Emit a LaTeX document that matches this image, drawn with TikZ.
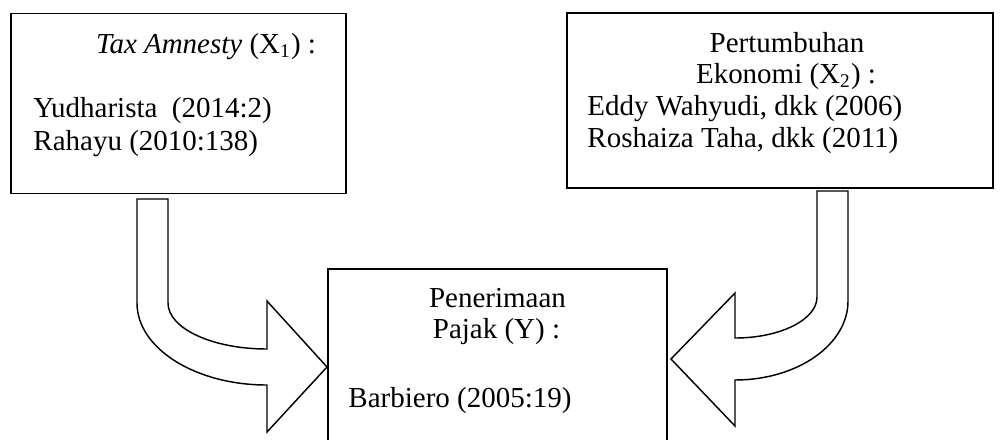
\documentclass[tikz,border=0pt]{standalone}
\usepackage{fontspec}
\setmainfont{Liberation Serif}
\begin{document}
\begin{tikzpicture}[
        x                 = 0.414pt,
        y                 = -0.414pt,
        box/.style        = {draw, black, line width=0.8pt, rectangle, inner sep=0pt},
        txt/.style        = {inner sep=0pt, font=\fontsize{12}{14}\selectfont},
        bigarrow/.style   = {draw, black, line width=0.6pt, fill=white, line join=miter},
      ]
    \useasboundingbox (0,0) rectangle (1000,439);
    \clip (0,0) rectangle (1000,439);
    % boxes
    \node[box, minimum width=138.7pt, minimum height=74.5pt] (amnesty) at (178.5,103.5) {};
    \node[box, minimum width=176.4pt, minimum height=72.5pt] (ekonomi) at (780,100.5) {};
    \node[box, minimum width=140.4pt, minimum height=87.4pt] (pajak) at (497.5,374.5) {};
    % texts
    \node[txt, anchor=base] (t1) at (206,53) {\textit{Tax Amnesty} (X\textsubscript{1}) :};
    \node[txt, anchor=base west] (r11) at (33,117) {Yudharista~ (2014:2)};
    \node[txt, anchor=base west] (r12) at (33,150) {Rahayu (2010:138)};
    \node[txt, anchor=base] (t2a) at (787,52) {Pertumbuhan};
    \node[txt, anchor=base] (t2b) at (786,83) {Ekonomi (X\textsubscript{2}) :};
    \node[txt, anchor=base west] (r21) at (587,115) {Eddy Wahyudi, dkk (2006)};
    \node[txt, anchor=base west] (r22) at (587,147) {Roshaiza Taha, dkk (2011)};
    \node[txt, anchor=base] (t3a) at (497.5,307) {Penerimaan};
    \node[txt, anchor=base] (t3b) at (496.5,338) {Pajak (Y) :};
    \node[txt, anchor=base west] (r31) at (348,407) {Barbiero (2005:19)};
    % arrows
    \path[bigarrow] (137,199) -- (168,199) -- (168,303)
        .. controls (168,328.4) and (212.3,349) .. (267,349)
        -- (267,301) -- (327,367) -- (267,432) -- (267,385)
        .. controls (195.2,385) and (137,348.3) .. (137,303) -- cycle;
    \path[bigarrow] (817,191) -- (848,191) -- (848,301)
        .. controls (848,344.6) and (797.4,380) .. (735,380)
        -- (735,426) -- (671,359) -- (735,293) -- (735,338)
        .. controls (780.3,338) and (817,319.6) .. (817,297) -- cycle;
\end{tikzpicture}
\end{document}
